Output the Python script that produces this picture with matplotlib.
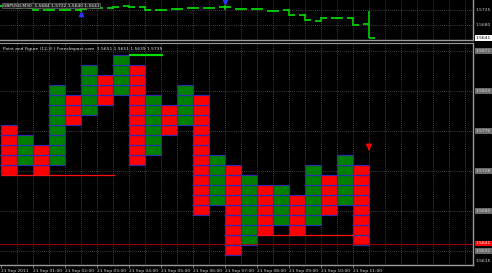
import matplotlib
matplotlib.use("Agg")
import matplotlib.pyplot as plt
import numpy as np
from matplotlib.transforms import blended_transform_factory

plt.rcParams['font.family'] = ['DejaVu Sans']

# ---------------- data ----------------
# Top panel: GBPUSD M30 bars (index = bar number)
bar_open  = [1.5737, 1.5737, 1.5731, 1.5725, 1.5725, 1.5725, 1.5731, 1.5731, 1.5737, 1.5734,
             1.5725, 1.5728, 1.5731, 1.5731, 1.5734, 1.5728, 1.5728, 1.5722, 1.5725, 1.5710,
             1.5692, 1.5701, 1.5701, 1.5684]
bar_close = [1.5737, 1.5731, 1.5725, 1.5725, 1.5725, 1.5728, 1.5731, 1.5734, 1.5734, 1.5725,
             1.5725, 1.5728, 1.5731, 1.5731, 1.5734, 1.5728, 1.5728, 1.5722, 1.5710, 1.5695,
             1.5701, 1.5701, 1.5680, 1.5641]
bar_high  = [1.5739, 1.5739, 1.5733, 1.5727, 1.5727, 1.5730, 1.5733, 1.5736, 1.5739, 1.5736,
             1.5727, 1.5730, 1.5733, 1.5733, 1.5740, 1.5730, 1.5730, 1.5724, 1.5727, 1.5712,
             1.5703, 1.5703, 1.5703, 1.5722]
bar_low   = [1.5735, 1.5729, 1.5723, 1.5723, 1.5723, 1.5719, 1.5729, 1.5729, 1.5732, 1.5723,
             1.5723, 1.5726, 1.5729, 1.5729, 1.5725, 1.5726, 1.5726, 1.5720, 1.5708, 1.5693,
             1.5690, 1.5699, 1.5678, 1.5640]
fractal_up_x, fractal_up_p = [14], [1.5749]
fractal_dn_x, fractal_dn_p = [5], [1.5713]
top_grid = [1.5725, 1.5680]
top_title = "GBPUSD,M30  1.5684 1.5722 1.5640 1.5641"
last_price = 1.5641

# Lower panel: Point and Figure (box 0.0012, reversal 3)
BOX = 0.0012
pf_type = ['O', 'X', 'O', 'X', 'O', 'X', 'O', 'X', 'O', 'X', 'O', 'X',
           'O', 'X', 'O', 'X', 'O', 'X', 'O', 'X', 'O', 'X', 'O']
pf_low  = [1.5723, 1.5735, 1.5723, 1.5735, 1.5783, 1.5795, 1.5807, 1.5819, 1.5735, 1.5747,
           1.5771, 1.5783, 1.5675, 1.5687, 1.5627, 1.5639, 1.5651, 1.5663, 1.5651, 1.5663,
           1.5675, 1.5687, 1.5639]
pf_high = [1.5783, 1.5771, 1.5759, 1.5831, 1.5819, 1.5855, 1.5843, 1.5867, 1.5855, 1.5819,
           1.5807, 1.5831, 1.5819, 1.5747, 1.5735, 1.5723, 1.5711, 1.5711, 1.5699, 1.5735,
           1.5723, 1.5747, 1.5735]
res_level, res_x0, res_x1 = 1.5867, 8, 10.1
sup_levels = [1.5723, 1.5651]
sup_x0 = [0, 16]
sup_x1 = [7.1, 22]
signal_x, signal_p = [23], [1.5754]
bot_grid = [1.5872, 1.5824, 1.5776, 1.5728, 1.5680, 1.5632]
bot_min_label = "1.5615"
pf_title = "Point and Figure (12,3) | ForexImpact.com  1.5651 1.5651 1.5639 1.5735"
time_pos = [0, 2, 4, 6, 8, 10, 12, 14, 16, 18, 20, 22]
time_labels = ["21 Sep 2011", "21 Sep 01:00", "21 Sep 02:00", "21 Sep 03:00", "21 Sep 04:00",
               "21 Sep 05:00", "21 Sep 06:00", "21 Sep 07:00", "21 Sep 08:00", "21 Sep 09:00",
               "21 Sep 10:00", "21 Sep 11:00"]

# ---------------- figure ----------------
W, H = 492, 273
fig = plt.figure(figsize=(W / 100, H / 100), dpi=100, facecolor='black')
XL = (-0.0625, 29.5)
FS = 3.2
GRID = dict(color='#7a7a7a', lw=0.5, ls=(0, (1, 2)))
SPINE = '#9a9a9a'

def px_axes(x0, y0, x1, y1):
    return fig.add_axes([x0 / W, 1 - y1 / H, (x1 - x0) / W, (y1 - y0) / H])

ax_t = px_axes(0, 0, 473, 40)
ax_b = px_axes(0, 43, 473, 265)

for ax in (ax_t, ax_b):
    ax.set_facecolor('black')
    ax.set_xlim(*XL)
    for s in ('top', 'left'):
        ax.spines[s].set_visible(False)
    ax.spines['right'].set_color(SPINE)
    ax.spines['bottom'].set_color(SPINE)
    ax.spines['right'].set_linewidth(1.0)
    ax.spines['bottom'].set_linewidth(1.0)
    ax.set_yticks([])
    for xv in range(1, 30):
        ax.axvline(xv, zorder=0, **GRID)

ax_b.spines['top'].set_visible(True)
ax_b.spines['top'].set_color(SPINE)

# ---- top panel ----
ax_t.set_ylim(1.5635, 1.5755)
ax_t.set_xticks([])
for g in top_grid:
    ax_t.axhline(g, zorder=0, **GRID)
GC = '#00d000'
xs = np.arange(len(bar_open))
ax_t.vlines(xs, bar_low, bar_high, color=GC, lw=1.2, zorder=3)
ax_t.hlines(bar_open, xs - 0.4, xs, color=GC, lw=1.3, zorder=3)
ax_t.hlines(bar_close, xs, xs + 0.4, color=GC, lw=1.3, zorder=3)
ax_t.plot(fractal_up_x, fractal_up_p, marker='v', color='#3030ff', ms=3, ls='none', zorder=4)
ax_t.plot(fractal_dn_x, fractal_dn_p, marker='^', color='#3030ff', ms=3, ls='none', zorder=4)
ax_t.text(0.006, 0.86, top_title, transform=ax_t.transAxes, fontsize=FS, color='#e8e8e8',
          va='center', ha='left', zorder=6,
          bbox=dict(boxstyle='square,pad=0.15', fc='#202020', ec='#808080', lw=0.4))
trt = blended_transform_factory(ax_t.transAxes, ax_t.transData)
for g in top_grid:
    ax_t.text(1.006, g, f"{g:.4f}", transform=trt, fontsize=FS, color='#d0d0d0',
              va='center', ha='left', clip_on=False)
ax_t.text(1.006, last_price, f"{last_price:.4f}", transform=trt, fontsize=FS, color='black',
          va='center', ha='left', clip_on=False,
          bbox=dict(boxstyle='square,pad=0.15', fc='white', ec='none'))

# ---- lower panel ----
ax_b.set_ylim(1.56152, 1.58816)
for g in bot_grid:
    ax_b.axhline(g, zorder=0, **GRID)

for j, (t, lo, hi) in enumerate(zip(pf_type, pf_low, pf_high)):
    n = int(round((hi - lo) / BOX))
    bottoms = lo + BOX * np.arange(n)
    ax_b.bar(np.full(n, j), np.full(n, BOX), bottom=bottoms, width=1.0, align='edge',
             color='#ff0000' if t == 'O' else '#008000', edgecolor='#2c2cb0',
             linewidth=0.85, zorder=2)

ax_b.hlines(res_level, res_x0, res_x1, color='#00dd00', lw=1.6, zorder=3)
ax_b.hlines(sup_levels, sup_x0, sup_x1, color='#ff1010', lw=0.9, zorder=3)
ax_b.axhline(last_price, color='#b00000', lw=0.6, zorder=3)
for sx, sp in zip(signal_x, signal_p):
    ax_b.annotate('', xy=(sx, sp - 0.0005), xytext=(sx, sp + 0.0004),
                  arrowprops=dict(arrowstyle='-|>', color='red', lw=1.5, mutation_scale=7),
                  zorder=4)

ax_b.text(0.006, 0.972, pf_title, transform=ax_b.transAxes, fontsize=FS, color='#e8e8e8',
          va='center', ha='left', zorder=6)

trb = blended_transform_factory(ax_b.transAxes, ax_b.transData)
for g in bot_grid:
    ax_b.text(1.006, g, f"{g:.4f}", transform=trb, fontsize=FS, color='#d8d8d8',
              va='center', ha='left', clip_on=False,
              bbox=dict(boxstyle='square,pad=0.15', fc='#6a6a6a', ec='none'))
ax_b.text(1.006, last_price, f"{last_price:.4f}", transform=trb, fontsize=FS, color='white',
          va='center', ha='left', clip_on=False,
          bbox=dict(boxstyle='square,pad=0.15', fc='#ff0000', ec='none'), zorder=7)
ax_b.text(1.006, 0.01, bot_min_label, transform=ax_b.transAxes, fontsize=FS, color='#e0e0e0',
          va='bottom', ha='left', clip_on=False)

ax_b.set_xticks(time_pos)
ax_b.set_xticklabels(time_labels, ha='left', fontsize=FS, color='#d8d8d8')
ax_b.tick_params(axis='x', length=2, width=0.5, color=SPINE, pad=1.2)

fig.savefig('out.png', dpi=100, facecolor='black')
